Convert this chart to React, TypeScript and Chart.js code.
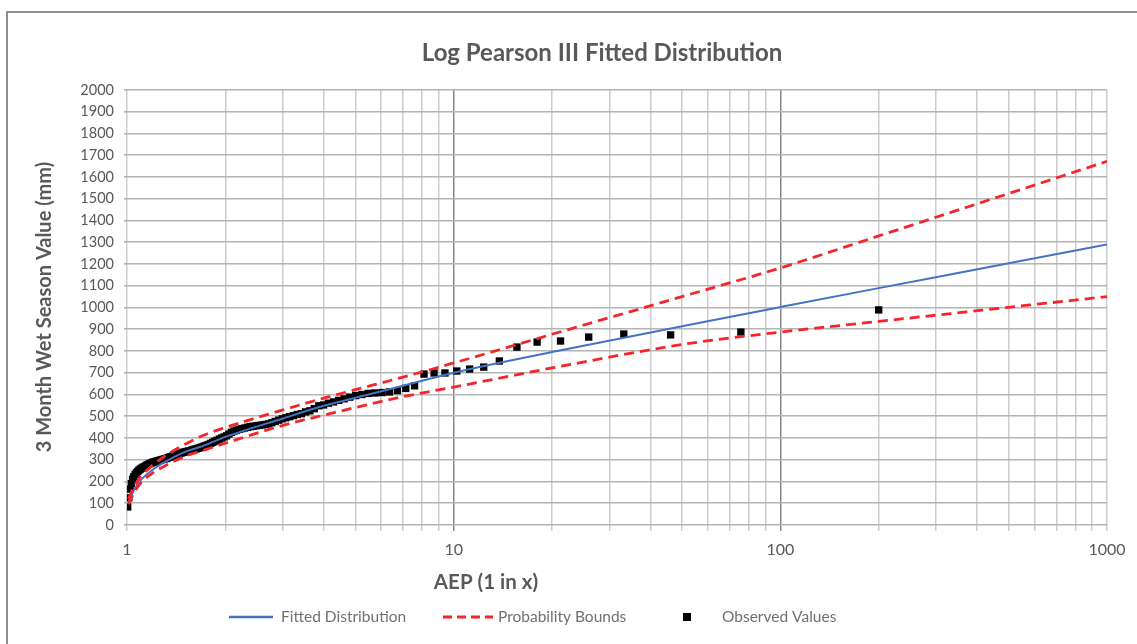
import React, { useEffect, useRef } from "react";
import { Chart, registerables } from "chart.js";

Chart.register(...registerables);

// ---------- DATA ----------
const chartTitle = "Log Pearson III Fitted Distribution";
const xAxisTitle = "AEP (1 in x)";
const yAxisTitle = "3 Month Wet Season Value (mm)";
const seriesNames = ["Fitted Distribution", "Probability Bounds", "Observed Values"];

// AEP (1 in x) positions for the fitted curve and the bounds
const curveAEP = [1.01, 1.05, 1.1, 1.2, 1.3, 1.5, 1.7, 2, 3, 4, 5, 7, 10, 20, 50, 100, 200, 500, 1000];
const fittedValues = [105, 160, 205, 255, 288, 335, 362, 405, 490, 548, 585, 640, 700, 795, 914, 1002, 1089, 1203, 1290];
const upperBoundValues = [120, 175, 222, 275, 315, 370, 410, 448, 529, 583, 622, 680, 745, 877, 1050, 1182, 1329, 1524, 1672];
const lowerBoundValues = [95, 148, 192, 240, 270, 315, 342, 376, 458, 505, 540, 590, 634, 722, 830, 887, 936, 1001, 1050];

// Observed values (ranked) and their plotted AEP
const observedAEP = [
  200, 75.72, 46.14, 33.18, 25.9, 21.24, 18.01, 15.62, 13.8, 12.36,
  11.19, 10.22, 9.405, 8.711, 8.113, 7.591, 7.133, 6.727, 6.364, 6.039,
  5.745, 5.479, 5.236, 5.014, 4.809, 4.621, 4.447, 4.286, 4.136, 3.996,
  3.865, 3.743, 3.628, 3.52, 3.418, 3.322, 3.231, 3.145, 3.063, 2.986,
  2.912, 2.842, 2.775, 2.712, 2.651, 2.593, 2.537, 2.484, 2.432, 2.383,
  2.336, 2.291, 2.247, 2.205, 2.165, 2.126, 2.088, 2.052, 2.017, 1.983,
  1.95, 1.919, 1.888, 1.858, 1.83, 1.802, 1.775, 1.748, 1.723, 1.698,
  1.674, 1.651, 1.628, 1.606, 1.584, 1.563, 1.543, 1.523, 1.504, 1.485,
  1.466, 1.448, 1.431, 1.414, 1.397, 1.381, 1.365, 1.349, 1.334, 1.319,
  1.304, 1.29, 1.276, 1.262, 1.249, 1.236, 1.223, 1.211, 1.198, 1.186,
  1.175, 1.163, 1.152, 1.141, 1.13, 1.119, 1.108, 1.098, 1.088, 1.078,
  1.068, 1.059, 1.049, 1.04, 1.031, 1.022, 1.013, 1.005,
];
const observedValues = [
  989, 887, 874, 878, 864, 846, 841, 818, 754, 726,
  717, 708, 699, 699, 694, 640, 628, 618, 612, 609,
  607, 605, 600, 595, 588, 580, 573, 566, 560, 552,
  548, 535, 525, 520, 512, 508, 503, 498, 493, 488,
  482, 476, 470, 465, 462, 460, 458, 456, 454, 452,
  449, 446, 443, 440, 436, 432, 426, 418, 410, 405,
  400, 395, 390, 385, 380, 375, 370, 366, 363, 359,
  356, 353, 350, 348, 345, 342, 340, 338, 336, 334,
  331, 328, 325, 322, 320, 317, 314, 312, 309, 306,
  304, 302, 300, 298, 296, 294, 292, 290, 288, 285,
  282, 279, 276, 272, 268, 265, 261, 257, 252, 246,
  240, 232, 222, 210, 190, 165, 125, 83,
];

// Axis ticks
const xGridValues = [1, 2, 3, 4, 5, 6, 7, 8, 9, 10, 20, 30, 40, 50, 60, 70, 80, 90, 100, 200, 300, 400, 500, 600, 700, 800, 900, 1000];
const xLabelValues = [1, 10, 100, 1000];
const xTickLabels = ["1", "10", "100", "1000"];
const xMajorGrid = [10, 100];
const yMin = 0;
const yMax = 2000;
const yStep = 100;

// ---------- STYLE ----------
const FONT = "Lato, 'Open Sans', sans-serif";
const BLUE = "#4472C4";
const RED = "#F5262B";
const TEXT = "#595959";

const decorPlugin = {
  id: "decor",
  afterDraw(chart: any) {
    const ctx = chart.ctx as CanvasRenderingContext2D;
    ctx.save();
    // outer chart border
    ctx.strokeStyle = "#8f8f8f";
    ctx.lineWidth = 2;
    ctx.beginPath();
    ctx.moveTo(7, 660);
    ctx.lineTo(7, 12);
    ctx.lineTo(1150, 12);
    ctx.stroke();

    ctx.fillStyle = TEXT;
    ctx.textAlign = "center";
    ctx.textBaseline = "middle";
    ctx.font = `bold 24px ${FONT}`;
    ctx.fillText(chartTitle, 602, 53);

    ctx.font = `bold 20.5px ${FONT}`;
    ctx.fillText(xAxisTitle, 486, 582);

    ctx.save();
    ctx.translate(45, 307);
    ctx.rotate(-Math.PI / 2);
    ctx.font = `bold 20px ${FONT}`;
    ctx.fillText(yAxisTitle, 0, 0);
    ctx.restore();

    // legend
    const ly = 617;
    ctx.font = `15.5px ${FONT}`;
    ctx.textAlign = "left";
    ctx.fillStyle = "#707070";
    ctx.lineWidth = 2.5;
    ctx.strokeStyle = BLUE;
    ctx.setLineDash([]);
    ctx.beginPath();
    ctx.moveTo(229, ly);
    ctx.lineTo(273, ly);
    ctx.stroke();
    ctx.fillText(seriesNames[0], 281, ly);

    ctx.strokeStyle = RED;
    ctx.lineWidth = 3;
    ctx.setLineDash([9, 5]);
    ctx.beginPath();
    ctx.moveTo(443, ly);
    ctx.lineTo(493, ly);
    ctx.stroke();
    ctx.setLineDash([]);
    ctx.fillText(seriesNames[1], 498, ly);

    ctx.fillStyle = "#000";
    ctx.fillRect(683, ly - 4, 8, 8);
    ctx.fillStyle = "#707070";
    ctx.fillText(seriesNames[2], 722, ly);
    ctx.restore();
  },
};

export default function App() {
  const ref = useRef<HTMLCanvasElement | null>(null);

  useEffect(() => {
    if (!ref.current) return;
    const toXY = (xs: number[], ys: number[]) => xs.map((x, i) => ({ x, y: ys[i] }));
    const lineCommon = {
      showLine: true,
      pointRadius: 0,
      cubicInterpolationMode: "monotone",
    };
    const chart = new Chart(ref.current, {
      type: "scatter",
      data: {
        datasets: [
          {
            ...lineCommon,
            label: seriesNames[1],
            data: toXY(curveAEP, upperBoundValues),
            borderColor: RED,
            borderWidth: 2.8,
            borderDash: [10, 6],
            order: 0,
          },
          {
            ...lineCommon,
            label: seriesNames[1] + " (lower)",
            data: toXY(curveAEP, lowerBoundValues),
            borderColor: RED,
            borderWidth: 2.8,
            borderDash: [10, 6],
            order: 0,
          },
          {
            ...lineCommon,
            label: seriesNames[0],
            data: toXY(curveAEP, fittedValues),
            borderColor: BLUE,
            borderWidth: 2,
            order: 1,
          },
          {
            label: seriesNames[2],
            data: toXY(observedAEP, observedValues),
            showLine: false,
            pointStyle: "rect",
            pointRadius: 5.2,
            backgroundColor: "#000",
            borderColor: "#000",
            borderWidth: 0,
            order: 2,
          },
        ],
      },
      options: {
        animation: false,
        responsive: false,
        devicePixelRatio: 1,
        layout: { padding: { left: 0, top: 90, right: 30, bottom: 0 } },
        plugins: {
          legend: { display: false },
          title: { display: false },
          tooltip: { enabled: false },
        },
        scales: {
          x: {
            type: "logarithmic",
            min: 1,
            max: 1000,
            afterBuildTicks: (scale: any) => {
              scale.ticks = xGridValues.map((v) => ({ value: v }));
            },
            afterFit: (scale: any) => {
              scale.height = 119;
            },
            ticks: {
              autoSkip: false,
              maxRotation: 0,
              padding: 9,
              color: TEXT,
              font: { family: FONT, size: 16 },
              callback: (value: any) => {
                const i = xLabelValues.indexOf(Number(value));
                return i >= 0 ? xTickLabels[i] : "";
              },
            },
            grid: {
              color: (c: any) => (xMajorGrid.includes(c.tick?.value) ? "#858585" : "#cdcdcd"),
              lineWidth: 1.5,
              tickLength: 6,
            },
            border: { display: false },
          },
          y: {
            min: yMin,
            max: yMax,
            afterFit: (scale: any) => {
              scale.width = 127;
            },
            ticks: {
              stepSize: yStep,
              autoSkip: false,
              padding: 10,
              color: TEXT,
              font: { family: FONT, size: 14.5 },
              callback: (value: any) => String(value),
            },
            grid: {
              color: "#b4b4b4",
              lineWidth: 1.6,
              tickLength: 3,
            },
            border: { display: false },
          },
        },
      },
      plugins: [decorPlugin],
    } as any);
    return () => chart.destroy();
  }, []);

  return (
    <div style={{ position: "fixed", left: 0, top: 0, width: 1137, height: 644, overflow: "hidden", background: "#fff" }}>
      <canvas ref={ref} width={1137} height={644} style={{ width: 1137, height: 644, display: "block" }} />
    </div>
  );
}
